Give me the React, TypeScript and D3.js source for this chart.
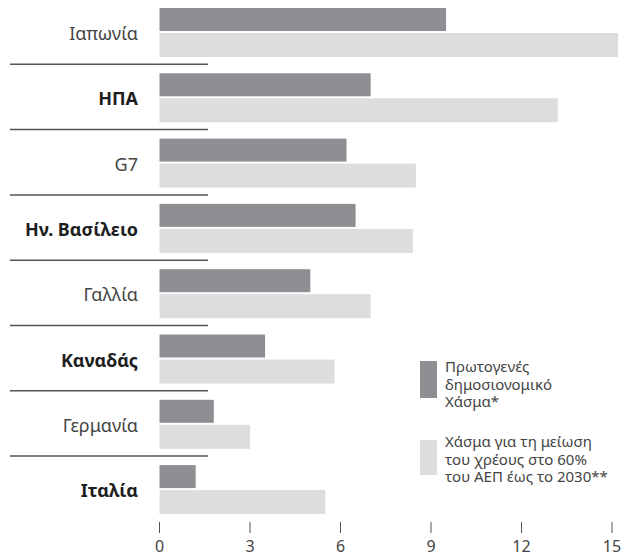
import React from "react";
import * as d3 from "d3";

const width = 632,
  height = 556;

// χώρες, από πάνω προς τα κάτω
const countries = ["Ιαπωνία", "ΗΠΑ", "G7", "Ην. Βασίλειο", "Γαλλία", "Καναδάς", "Γερμανία", "Ιταλία"];
const boldCountries = ["ΗΠΑ", "Ην. Βασίλειο", "Καναδάς", "Ιταλία"];
// Πρωτογενές δημοσιονομικό χάσμα
const primaryGap = [9.5, 7.0, 6.2, 6.5, 5.0, 3.5, 1.8, 1.2];
// Χάσμα για μείωση χρέους στο 60% του ΑΕΠ έως το 2030
const debtGap = [15.2, 13.2, 8.5, 8.4, 7.0, 5.8, 3.0, 5.5];
const ticks = [0, 3, 6, 9, 12, 15];
const legend1 = ["Πρωτογενές", "δημοσιονομικό", "Χάσμα*"];
const legend2 = ["Χάσμα για τη μείωση", "του χρέους στο 60%", "του ΑΕΠ έως το 2030**"];

const darkColor = "#8e8f92";
const lightColor = "#dcdddf";
const font = "'Noto Sans', sans-serif";

export default function App() {
  const x = d3.scaleLinear().domain([0, 15]).range([159.5, 612]);
  const y = d3.scaleBand().domain(countries).range([4, 4 + 8 * 65.3]).padding(0);
  const step = y.step();

  return (
    <svg
      width={width}
      height={height}
      style={{ position: "absolute", left: 0, top: 0, background: "#fff" }}
      fontFamily={font}
    >
      {countries.map((c, i) => {
        const top = y(c)!;
        const bold = boldCountries.includes(c);
        return (
          <g key={c}>
            <rect x={x(0)} y={top + 4} width={x(primaryGap[i]) - x(0)} height={23} fill={darkColor} />
            <rect x={x(0)} y={top + 29} width={x(debtGap[i]) - x(0)} height={24} fill={lightColor} />
            <text
              x={138}
              y={top + 29}
              textAnchor="end"
              dominantBaseline="central"
              fontSize={18}
              fontWeight={bold ? 700 : 400}
              fill={bold ? "#1e1e1e" : "#444"}
            >
              {c}
            </text>
            {i < countries.length - 1 && (
              <line x1={10} x2={208} y1={top + step - 5} y2={top + step - 5} stroke="#555" strokeWidth={1.5} />
            )}
          </g>
        );
      })}

      {ticks.map(t => (
        <g key={t} transform={`translate(${x(t)},0)`}>
          <line y1={522} y2={533} stroke="#555" strokeWidth={1} />
          <text y={546} textAnchor="middle" dominantBaseline="central" fontSize={16} fill="#444">
            {t}
          </text>
        </g>
      ))}

      <rect x={420} y={361} width={17} height={37} fill={darkColor} />
      {legend1.map((l, i) => (
        <text key={l} x={445} y={366 + i * 17.5} dominantBaseline="central" fontSize={15} fill="#444">
          {l}
        </text>
      ))}
      <rect x={420} y={440} width={17} height={35} fill={lightColor} />
      {legend2.map((l, i) => (
        <text key={l} x={445} y={441 + i * 17.5} dominantBaseline="central" fontSize={15} fill="#444">
          {l}
        </text>
      ))}
    </svg>
  );
}
